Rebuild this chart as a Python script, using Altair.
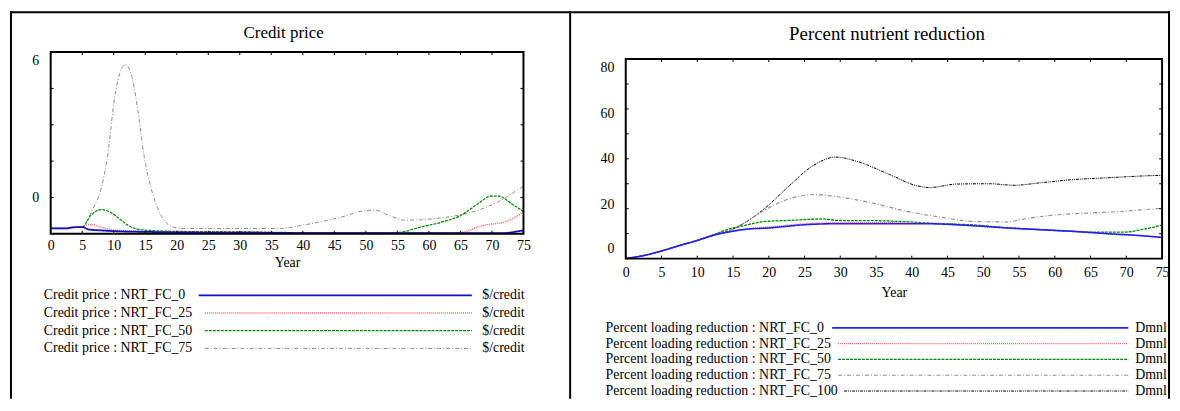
import altair as alt
import pandas as pd

FONT = "Liberation Serif"

# ---------------- Credit price (left panel) ----------------
CP_SERIES = ["NRT_FC_0", "NRT_FC_25", "NRT_FC_50", "NRT_FC_75"]
CP_UNIT = "$/credit"

CP_0_YEARS = [0, 2.5, 3, 5, 6, 8, 10, 15, 20, 35, 40, 72, 74, 75]
CP_0_VALUES = [-1.28, -1.28, -1.25, -1.22, -1.32, -1.36, -1.39, -1.42, -1.44, -1.46, -1.47, -1.47, -1.40, -1.36]

CP_25_YEARS = [0, 2.5, 3, 5, 6, 7, 8, 10, 13, 20, 30, 40, 64.6, 66, 67.8, 70, 72, 73.8, 75]
CP_25_VALUES = [-1.28, -1.28, -1.25, -1.22, -1.12, -1.15, -1.23, -1.34, -1.39, -1.42, -1.44, -1.46, -1.46, -1.40, -1.21, -1.10, -1.01, -0.80, -0.58]

CP_50_YEARS = [0, 2.5, 3, 5, 6.4, 8, 9.6, 11.2, 12.2, 13.8, 16.4, 20, 30, 40, 54.7, 58.9, 62, 65, 67.8, 69.9, 71.2, 73, 75]
CP_50_VALUES = [-1.28, -1.28, -1.25, -1.22, -0.73, -0.50, -0.63, -0.94, -1.14, -1.31, -1.37, -1.40, -1.42, -1.45, -1.45, -1.21, -1.02, -0.75, -0.26, 0.06, 0.05, -0.24, -0.58]

CP_75_YEARS = [0, 2.5, 3, 4.9, 6.7, 8, 9.1, 10.1, 11.2, 11.8, 12.7, 13.8, 14.8, 16.1, 17.5, 19, 20.6, 36.3, 40.5, 45.8, 50.5, 51.5, 53.6, 56.2, 59.9, 64.1, 67.8, 70.9, 74.6, 75]
CP_75_VALUES = [-1.28, -1.28, -1.25, -1.22, -0.46, 0.36, 1.86, 4.05, 5.28, 5.48, 5.14, 3.64, 1.73, 0.22, -0.73, -1.18, -1.28, -1.28, -1.12, -0.83, -0.53, -0.53, -0.73, -0.94, -0.90, -0.76, -0.53, -0.19, 0.39, 0.45]

CP_COLORS = ["#1010c8", "#ff6464", "#008c00", "#8c8c8c"]
CP_DASHES = [[1, 0], [1, 1], [3, 1], [4, 2, 1, 2]]
CP_WIDTHS = [1.8, 1, 1.2, 1]
CP_Y_DOMAIN = [-1.5, 6]
CP_Y_TICKS = [-1.5, 0, 1.5, 3, 4.5, 6]

# ---------------- Percent nutrient reduction (right panel) ----------------
PR_SERIES = ["NRT_FC_0", "NRT_FC_25", "NRT_FC_50", "NRT_FC_75", "NRT_FC_100"]
PR_UNIT = "Dmnl"

PR_0_YEARS = [0, 2.1, 4.9, 7.7, 10, 12.3, 14.6, 16.9, 20, 25.1, 29.8, 41.6, 48.6, 53.3, 58, 62.7, 67.4, 72.1, 75]
PR_0_VALUES = [0.1, 1.0, 3.0, 5.4, 7.3, 9.4, 10.8, 11.8, 12.3, 13.6, 14.0, 14.0, 13.2, 12.3, 11.6, 10.9, 10.0, 9.2, 8.5]

PR_25_YEARS = [0, 2.1, 4.9, 7.7, 10, 12.3, 14.6, 16.9, 20, 25.1, 29.8, 35, 41.6, 48.6, 53.3, 58, 62.7, 67.4, 72.1, 75]
PR_25_VALUES = [0.1, 1.0, 3.0, 5.4, 7.3, 9.4, 10.8, 11.9, 12.6, 14.0, 14.4, 14.4, 14.2, 13.2, 12.3, 11.6, 10.9, 10.0, 9.2, 8.5]

PR_50_YEARS = [0, 2.1, 4.9, 7.7, 10, 12.3, 13.4, 16.5, 19.5, 22.8, 27.5, 29.8, 35, 39.2, 42, 48.6, 53.3, 58, 62.7, 65, 69.7, 72.1, 75]
PR_50_VALUES = [0.1, 1.0, 3.0, 5.4, 7.3, 9.5, 10.9, 13.2, 14.9, 15.3, 15.9, 15.3, 15.2, 14.8, 14.3, 13.5, 12.4, 11.6, 10.9, 10.6, 10.6, 11.6, 13.4]

PR_75_YEARS = [0, 2.1, 4.9, 7.7, 10, 12.3, 14.8, 17, 19.5, 22.8, 26.6, 29.8, 34.5, 39.2, 43.9, 48.6, 53.3, 55.7, 60.4, 65.1, 69.7, 75]
PR_75_VALUES = [0.1, 1.0, 3.0, 5.4, 7.3, 9.6, 11.6, 15.0, 19.6, 23.9, 25.7, 24.7, 22.3, 19.0, 16.7, 14.9, 14.7, 15.9, 17.6, 18.3, 19.0, 20.2]

PR_100_YEARS = [0, 2.1, 4.9, 7.7, 10, 12.3, 14.8, 17, 19.5, 22.8, 26.1, 29.4, 32.2, 36.9, 40.6, 42.5, 46.3, 51, 54.3, 58, 62.7, 67.4, 72.1, 75]
PR_100_VALUES = [0.1, 1.0, 3.0, 5.4, 7.3, 9.6, 11.6, 15.0, 20.3, 29.0, 37.1, 40.7, 39.1, 33.7, 29.3, 28.5, 29.9, 30.0, 29.4, 30.4, 31.7, 32.4, 33.1, 33.4]

PR_COLORS = ["#2020ff", "#ff5a5a", "#008c00", "#909090", "#000000"]
PR_DASHES = [[1, 0], [1, 1], [3, 1], [4, 2, 1, 2], [3, 1, 1, 1, 1, 1]]
PR_WIDTHS = [1.6, 1, 1.2, 1, 1]
PR_Y_DOMAIN = [0, 80]
PR_Y_TICKS = [0, 10, 20, 30, 40, 50, 60, 70, 80]

X_DOMAIN = [0, 75]
X_TICKS = list(range(0, 76, 5))

H = 390
W_L = 564
W_R = 604


def long_df(series, years_list, values_list):
    # series listed last-to-first so the first scenario is drawn on top
    rows = []
    for s, ys, vs in reversed(list(zip(series, years_list, values_list))):
        for y, v in zip(ys, vs):
            rows.append({"series": s, "year": y, "value": v})
    return pd.DataFrame(rows)


cp_df = long_df(CP_SERIES, [CP_0_YEARS, CP_25_YEARS, CP_50_YEARS, CP_75_YEARS],
                [CP_0_VALUES, CP_25_VALUES, CP_50_VALUES, CP_75_VALUES])
pr_df = long_df(PR_SERIES, [PR_0_YEARS, PR_25_YEARS, PR_50_YEARS, PR_75_YEARS, PR_100_YEARS],
                [PR_0_VALUES, PR_25_VALUES, PR_50_VALUES, PR_75_VALUES, PR_100_VALUES])


def one():
    return alt.Data(values=[{}])


def panel(df, series, colors, dashes, widths, y_domain, y_ticks, label_expr, label_offsets,
          x_range, y_range, width, title, title_pos, title_size,
          legend_prefix, unit, leg_x, leg_y0, leg_dy, char_w, line_end, unit_x, leg_size,
          x_label_pad, x_title_pad, borders):
    color = alt.Color("series:N", scale=alt.Scale(domain=series, range=colors), legend=None)
    dash = alt.StrokeDash("series:N", scale=alt.Scale(domain=series, range=dashes), legend=None)
    sw = alt.StrokeWidth("series:N", scale=alt.Scale(domain=series, range=widths), legend=None)

    off_cond = {"condition": [{"test": f"datum.value == {v}", "value": o} for v, o in label_offsets],
                "value": 0}

    x_scale = alt.Scale(domain=X_DOMAIN, range=x_range, nice=False, zero=False)
    y_scale = alt.Scale(domain=y_domain, range=y_range, nice=False, zero=False)
    x_axis = alt.Axis(values=X_TICKS, title="Year", offset=y_range[0] - H,
                      domain=False, ticks=False, grid=False, labelPadding=x_label_pad,
                      labelFlush=False, labelOverlap=False, titlePadding=x_title_pad)
    y_axis = alt.Axis(values=y_ticks, title=None, offset=-x_range[0], domain=False,
                      ticks=False, grid=False, labelPadding=12, labelExpr=label_expr,
                      labelOffset=off_cond, labelOverlap=False, labelFlush=False,
                      labelColor="black")

    lines = alt.Chart(df).mark_line(interpolate="monotone").encode(
        x=alt.X("year:Q", scale=x_scale, axis=x_axis),
        y=alt.Y("value:Q", scale=y_scale, axis=y_axis),
        color=color, strokeDash=dash, strokeWidth=sw,
        order="year:Q",
    )

    # inward tick marks on the four sides of the plot box
    xt = alt.Chart(pd.DataFrame({"year": X_TICKS}))
    yt = alt.Chart(pd.DataFrame({"value": y_ticks}))
    tick_bottom = xt.mark_rule(color="black", strokeWidth=1).encode(
        x=alt.X("year:Q", scale=x_scale, axis=x_axis),
        y=alt.value(y_range[0]), y2=alt.value(y_range[0] - 3))
    tick_top = xt.mark_rule(color="black", strokeWidth=1).encode(
        x=alt.X("year:Q", scale=x_scale, axis=x_axis),
        y=alt.value(y_range[1]), y2=alt.value(y_range[1] + 3))
    tick_left = yt.mark_rule(color="black", strokeWidth=1).encode(
        y=alt.Y("value:Q", scale=y_scale, axis=y_axis),
        x=alt.value(x_range[0]), x2=alt.value(x_range[0] + 3))
    tick_right = yt.mark_rule(color="black", strokeWidth=1).encode(
        y=alt.Y("value:Q", scale=y_scale, axis=y_axis),
        x=alt.value(x_range[1]), x2=alt.value(x_range[1] - 3))

    # plot-box frame spanning the scale domains
    frame_df = pd.DataFrame({"year": [X_DOMAIN[0]], "year2": [X_DOMAIN[1]],
                             "value": [y_domain[0]], "value2": [y_domain[1]]})
    frame = alt.Chart(frame_df).mark_rect(fillOpacity=0, stroke="black", strokeWidth=2).encode(
        x=alt.X("year:Q", scale=x_scale, axis=x_axis), x2="year2:Q",
        y=alt.Y("value:Q", scale=y_scale, axis=y_axis), y2="value2:Q",
    )
    inner = alt.layer(lines, tick_bottom, tick_top, tick_left, tick_right, frame)

    leg_df = pd.DataFrame({
        "series": series,
        "label": [f"{legend_prefix} : {s}" for s in series],
        "unit": [unit] * len(series),
        "row": list(range(len(series))),
    })
    base = alt.Chart(leg_df).transform_calculate(
        ly=f"{leg_y0} + datum.row * {leg_dy}",
        x0=f"{leg_x} + length(datum.label) * {char_w} + 11",
    )
    ly = alt.Y("ly:Q", scale=None, axis=None)
    leg_text = base.mark_text(align="left", baseline="middle", font=FONT, fontSize=leg_size,
                              color="black").encode(x=alt.value(leg_x), y=ly, text="label:N")
    leg_unit = base.mark_text(align="left", baseline="middle", font=FONT, fontSize=leg_size,
                              color="black").encode(x=alt.value(unit_x), y=ly, text="unit:N")
    leg_rule = base.mark_rule().encode(
        x=alt.X("x0:Q", scale=None, axis=None), x2=alt.value(line_end), y=ly,
        color=color, strokeDash=dash, strokeWidth=sw,
    )

    ttl = alt.Chart(alt.Data(values=[{"t": title}])).mark_text(
        font=FONT, fontSize=title_size, align="center", baseline="middle", color="black"
    ).encode(x=alt.value(title_pos[0]), y=alt.value(title_pos[1]), text="t:N")

    border_layers = []
    for kind, pos in borders:
        if kind == "v":
            enc = dict(x=alt.value(pos), y=alt.value(0), y2=alt.value(H))
        else:
            enc = dict(y=alt.value(pos), x=alt.value(0), x2=alt.value(width))
        border_layers.append(alt.Chart(one()).mark_rule(color="black", strokeWidth=2).encode(**enc))

    return alt.layer(inner, leg_rule, leg_text, leg_unit, ttl, *border_layers).resolve_scale(
        x="independent", y="independent"
    ).properties(width=width, height=H)


left = panel(
    cp_df, CP_SERIES, CP_COLORS, CP_DASHES, CP_WIDTHS, CP_Y_DOMAIN, CP_Y_TICKS,
    "datum.value == 6 ? '6' : (datum.value == 0 ? '0' : '')", [(6, 9)],
    [41, 517], [224, 41], W_L, "Credit price", (275.5, 21.5), 17,
    "Credit price", CP_UNIT, 34, 286, 17.8, 6.3, 465, 475.5, 14,
    5, 3,
    [("v", 1), ("h", 1), ("v", W_L)],
)

right = panel(
    pr_df, PR_SERIES, PR_COLORS, PR_DASHES, PR_WIDTHS, PR_Y_DOMAIN, PR_Y_TICKS,
    "datum.value % 20 == 0 ? datum.label : ''", [(80, 9), (60, 4.5), (20, -4), (0, -10)],
    [56, 596], [249, 48], W_R, "Percent nutrient reduction", (319, 23), 19,
    "Percent loading reduction", PR_UNIT, 35.7, 318.7, 15.9, 6.03, 562, 569, 14,
    7, 6,
    [("h", 1), ("v", W_R - 1)],
)

chart = alt.hconcat(left, right, spacing=0, bounds="flush").resolve_scale(
    color="independent", strokeDash="independent", strokeWidth="independent"
).properties(
    padding=0
).configure_view(stroke="transparent").configure_axis(
    labelFont=FONT, labelFontSize=14, labelColor="black",
    titleFont=FONT, titleFontSize=14, titleFontWeight="normal", titleColor="black",
)

chart.save("out.html", embed_options={"renderer": "svg", "actions": False})
